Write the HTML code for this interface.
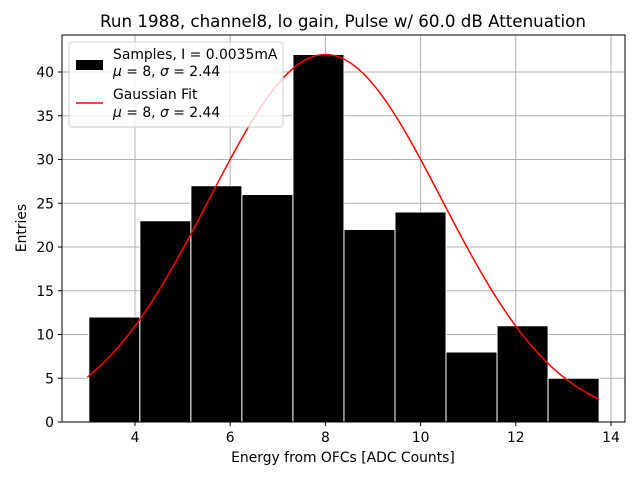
<!DOCTYPE html>
<html><head><meta charset="utf-8"><style>
body{margin:0;background:#fff;}
svg text{font-family:"DejaVu Sans","Liberation Sans",sans-serif;}
</style></head><body>
<svg id="chart" width="640" height="480">
<rect width="640" height="480" fill="#fff"/>
<text x="343" y="27" font-size="16.7" text-anchor="middle">Run 1988, channel8, lo gain, Pulse w/ 60.0 dB Attenuation</text>
<g id="grid"></g>
<g id="bars"></g>
<path id="fit" fill="none" stroke="#ff0000" stroke-width="1.5"/>
<rect x="62" y="35" width="563" height="387" fill="none" stroke="#000" stroke-width="1"/>
<g id="ticks"></g>
<text x="343" y="462" font-size="13.9" text-anchor="middle">Energy from OFCs [ADC Counts]</text>
<text x="26" y="228" font-size="13.9" text-anchor="middle" transform="rotate(-90 26 228)">Entries</text>
<g>
<rect x="69" y="42" width="214" height="85" rx="3" fill="#fff" fill-opacity="0.8" stroke="#ccc"/>
<rect x="76" y="60" width="27" height="10" fill="#000"/>
<text x="113" y="59" font-size="13.9">Samples, I = 0.0035mA</text>
<text x="113" y="76" font-size="13.9"><tspan font-style="italic">μ</tspan> = 8, <tspan font-style="italic">σ</tspan> = 2.44</text>
<line x1="76" y1="103" x2="103" y2="103" stroke="#ff0000" stroke-width="1.5"/>
<text x="113" y="99" font-size="13.9">Gaussian Fit</text>
<text x="113" y="117" font-size="13.9"><tspan font-style="italic">μ</tspan> = 8, <tspan font-style="italic">σ</tspan> = 2.44</text>
</g>
</svg>
<script>
const binStart = 3.03;
const binWidth = 1.072;
const counts = [12, 23, 27, 26, 42, 22, 24, 8, 11, 5];
const xTicks = [4, 6, 8, 10, 12, 14];
const yTicks = [0, 5, 10, 15, 20, 25, 30, 35, 40];
const fitMu = 8, fitSigma = 2.44, fitAmp = 42;
const fitRange = [3.0, 13.75];

const NS = "http://www.w3.org/2000/svg";
const X = v => 135 + (v - 4) * 47.6;
const Y = v => 422 - v * 8.75;
function mk(tag, attrs, parent){const e=document.createElementNS(NS,tag);for(const k in attrs)e.setAttribute(k,attrs[k]);parent.appendChild(e);return e;}
const grid=document.getElementById('grid'), bars=document.getElementById('bars'), ticks=document.getElementById('ticks');
xTicks.forEach(t=>{
  const l=mk('line',{x1:X(t),x2:X(t),y1:35,y2:422,stroke:'#b0b0b0','stroke-width':1},grid);
  
  
  const tk=mk('line',{x1:X(t),x2:X(t),y1:422,y2:426,stroke:'#000'},ticks);
  
  
  const tx=mk('text',{x:X(t),y:442,'font-size':13.9,'text-anchor':'middle'},ticks);
  tx.textContent=t;
  
  
});
yTicks.forEach(t=>{
  const l=mk('line',{x1:62,x2:625,y1:Y(t),y2:Y(t),stroke:'#b0b0b0','stroke-width':1},grid);
  
  
  const tk=mk('line',{x1:58,x2:62,y1:Y(t),y2:Y(t),stroke:'#000'},ticks);
  
  
  const tx=mk('text',{x:54,y:Y(t)+5,'font-size':13.9,'text-anchor':'end'},ticks);
  tx.textContent=t;
  
  
});
counts.forEach((c,i)=>{
  const x0=X(binStart+i*binWidth), x1=X(binStart+(i+1)*binWidth);
  const r=mk('rect',{x:x0,y:Y(c),width:x1-x0,height:Y(0)-Y(c),fill:'#000',stroke:'#fff','stroke-width':1},bars);
  
  
});
let d='';
for(let i=0;i<=200;i++){const v=fitRange[0]+(fitRange[1]-fitRange[0])*i/200;
  const y=fitAmp*Math.exp(-((v-fitMu)**2)/(2*fitSigma*fitSigma));
  d+=(i?'L':'M')+X(v).toFixed(2)+','+Y(y).toFixed(2);}
document.getElementById('fit').setAttribute('d',d);
</script>
</body></html>
